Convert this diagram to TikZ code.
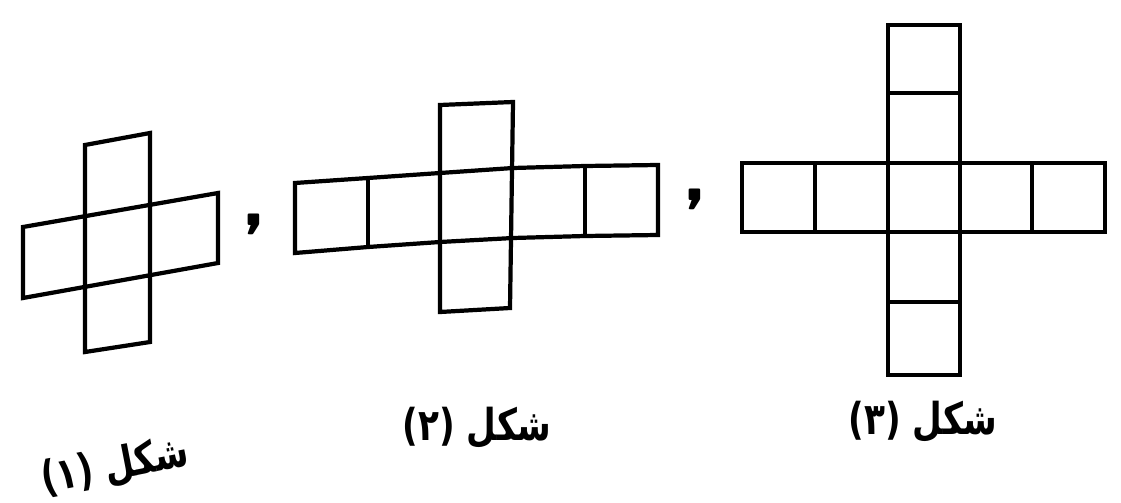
\documentclass[tikz,border=0pt]{standalone}
\usepackage{fontspec}
\newfontfamily\arabicfont[Script=Arabic]{DejaVu Sans}
\TeXXeTstate=1
\newcommand{\arlabel}[1]{\scalebox{0.78}[1]{\arabicfont\bfseries\fontsize{25}{28}\selectfont\beginR #1\endR}}
\begin{document}
\begin{tikzpicture}[x=0.02cm,y=-0.02cm,
  net/.style={line width=2.4pt, line join=miter},
  lbl/.style={inner sep=0pt},
  sep/.style={font=\sffamily\bfseries\fontsize{50}{50}\selectfont, inner sep=0pt}]
\useasboundingbox (0,0) rectangle (1121,503);
% figure 1
\draw[net] (85,145) -- (150,133) -- (150,342) -- (85,352) -- cycle;
\draw[net] (23,227) -- (218,193) -- (218,263) -- (23,298) -- cycle;
% figure 2
\draw[net] (440,105) -- (513,102) -- (510,308) -- (440,312) -- cycle;
\draw[net] (295,183) -- (368,178) -- (440,173) -- (513,168) -- (585,166) -- (658,165)
  -- (658,235) -- (585,236) -- (513,238) -- (440,242) -- (368,247) -- (295,253) -- cycle;
\draw[net] (368,178) -- (368,247);
\draw[net] (585,166) -- (585,236);
% figure 3
\draw[net] (888,25) rectangle (960,375);
\draw[net] (888,93) -- (960,93);
\draw[net] (888,302) -- (960,302);
\draw[net] (742,163) rectangle (1105,232);
\draw[net] (815,163) -- (815,232);
\draw[net] (1032,163) -- (1032,232);
% separators
\node[sep] (c1) at (254,224) {,};
\node[sep] (c2) at (695,199) {,};
% labels
\node[lbl, rotate=11] (l1) at (115,467) {\arlabel{شكل (١)}};
\node[lbl] (l2) at (477,428) {\arlabel{شكل (٢)}};
\node[lbl] (l3) at (923,422) {\arlabel{شكل (٣)}};
\end{tikzpicture}
\end{document}
